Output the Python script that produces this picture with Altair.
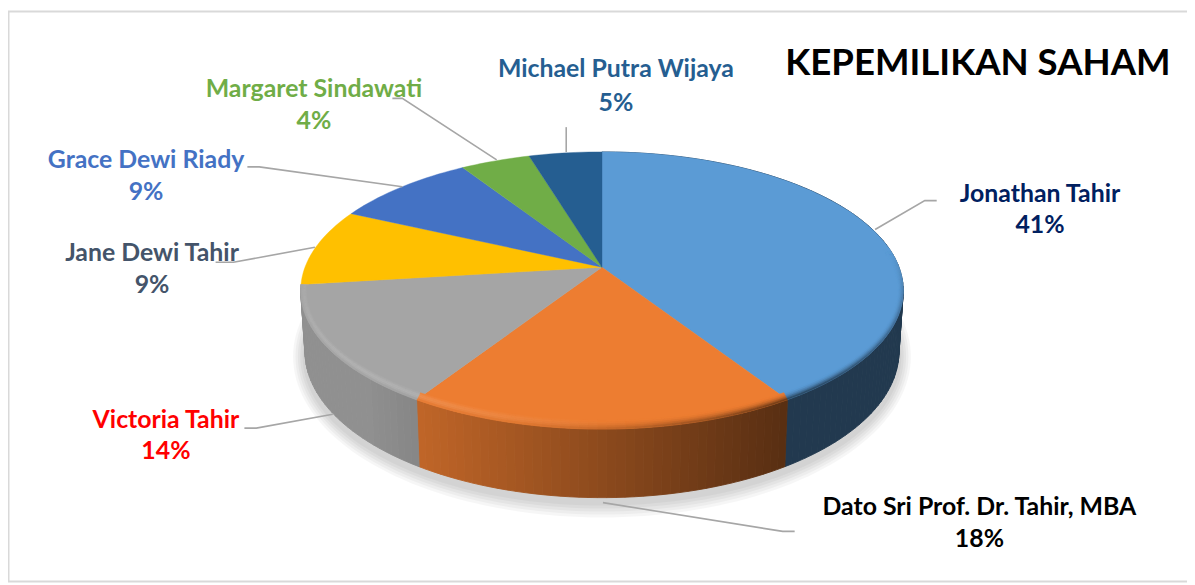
import math
import altair as alt

# ---- data ----
names = ["Jonathan Tahir", "Dato Sri Prof. Dr. Tahir, MBA", "Victoria Tahir", "Jane Dewi Tahir",
         "Grace Dewi Riady", "Margaret Sindawati", "Michael Putra Wijaya"]
shares = [41, 18, 14, 9, 9, 4.4, 4.6]
percent_labels = ["41%", "18%", "14%", "9%", "9%", "4%", "5%"]
slice_colors = ["#5b9bd5", "#ed7d31", "#a5a5a5", "#ffc000", "#4472c4", "#70ad47", "#255e91"]
label_colors = ["#002060", "#000000", "#ff0000", "#44546a", "#4472c4", "#70ad47", "#255e91"]
title_text = "KEPEMILIKAN SAHAM"

# ---- layout (page pixels) ----
W, H = 1187, 577
M = 8
APEX = (606.0, 267.0)
R, A, K = 299.0, 135.6, 0.168      # perspective of the disc
CY_TOP = APEX[1] + 23.5
RX_TOP, RY_TOP = 303.3, 139.5
CY_BOT, RX_BOT, RY_BOT = 352.0, 299.0, 147.0
label_xy = [(1047, 193, 225), (986, 508, 541), (167, 421, 452), (153, 253, 285),
            (147, 159, 191), (316, 88, 120), (620, 68, 102)]
leaders = [[(881, 229), (931, 200), (943, 200)],
           [(607, 504), (788, 533), (800, 533)],
           [(246, 429), (258, 429), (335, 415)],
           [(217, 262), (235, 262), (317, 247)],
           [(249, 166), (261, 166), (405, 186)],
           [(395, 97), (405, 97), (500, 159)],
           [(570, 126), (570, 151)]]


def rim(theta):
    u, v = math.sin(theta), -math.cos(theta)
    w = 1 - K * v
    return APEX[0] + R * u / w, APEX[1] + A * v / w


def bottom(p):
    phi = math.atan2((p[1] - CY_TOP) / RY_TOP, (p[0] - APEX[0]) / RX_TOP)
    return APEX[0] + RX_BOT * math.cos(phi), CY_BOT + RY_BOT * math.sin(phi)


def rgb(c):
    return [int(c[i:i + 2], 16) for i in (1, 3, 5)]


def mix(c, d, t):
    t = max(0.0, min(1.0, t))
    a, b = rgb(c), rgb(d)
    return "#%02x%02x%02x" % tuple(round(x + (y - x) * t) for x, y in zip(a, b))


def clamp(x):
    return max(0.0, min(1.0, x))


def side_shade(x):
    t = (x - 303) / 607
    return max(0.37, min(0.87, 0.95 - 0.72 * t))


def poly(points, color):
    ring = [[(x - APEX[0]) / R, (y - APEX[1]) / R] for x, y in points]
    ring.append(ring[0])
    return {"type": "Feature", "geometry": {"type": "Polygon", "coordinates": [ring]},
            "properties": {"c": color}}


def line(points):
    coords = [[(x - APEX[0]) / R, (y - APEX[1]) / R] for x, y in points]
    return {"type": "Feature", "geometry": {"type": "LineString", "coordinates": coords},
            "properties": {"c": "#a6a6a6"}}


def inset(p, f):
    dx = (p[0] - APEX[0]) / RX_TOP * 6 * (1 - f)
    dy = (p[1] - CY_TOP) / RY_TOP * 9 * (1 - f)
    return p[0] - dx, p[1] - dy


# slice angles from the shares
total = sum(shares)
edges = [0.0]
for s in shares:
    edges.append(edges[-1] + s / total * 2 * math.pi)

shadow, side, top, bevel = [], [], [], []

# soft shadow beneath the disc
for e in [15, 12, 9, 6, 3]:
    pts = [(APEX[0] + (RX_BOT + 0.8 * e) * math.cos(i * math.pi / 90),
            CY_BOT + 5 + (RY_BOT + e) * math.sin(i * math.pi / 90)) for i in range(180)]
    shadow.append(poly(pts, "#000000"))

STEP = math.radians(1.5)
for i, col in enumerate(slice_colors):
    a0, a1 = edges[i], edges[i + 1]
    n = max(2, int((a1 - a0) / STEP))
    thetas = [a0 + (a1 - a0) * j / n for j in range(n + 1)]
    top.append(poly([APEX] + [rim(t) for t in thetas], col))
    for t0, t1 in zip(thetas, thetas[1:]):
        p0, p1 = rim(t0), rim(t1)
        b0, b1 = bottom(p0), bottom(p1)
        xm = (p0[0] + p1[0]) / 2
        ym = (p0[1] + p1[1]) / 2
        side_col = mix("#000000", col, side_shade(xm))
        if i < 3:
            side.append(poly([p0, p1, b1, b0], side_col))
        front = clamp((ym - CY_TOP) / RY_TOP + 0.3)
        if front <= 0 or i >= 3:
            continue
        t = (xm - 303) / 607
        light = clamp(1 - t / 0.55) * front
        dark = (0.2 + 0.8 * clamp((t - 0.35) / 0.45)) * front
        bands = [0.0, 0.2, 0.4, 0.6, 0.8, 1.0]
        for f0, f1 in zip(bands, bands[1:]):
            fm = (f0 + f1) / 2
            c = mix(col, "#ffffff", 0.22 * light * math.sin(math.pi * fm))
            c = mix(c, side_col, dark * fm * fm)
            bevel.append(poly([inset(p0, f0), inset(p1, f0), inset(p1, f1), inset(p0, f1)], c))

proj = alt.Projection(type="identity", scale=R, translate=[APEX[0] - M, APEX[1] - M])


def geo(features, **mark):
    return alt.Chart(alt.Data(values=features)).mark_geoshape(**mark).project(**proj.to_dict())


fill = alt.Fill("properties.c:N", scale=None, legend=None)
stroke = alt.Stroke("properties.c:N", scale=None, legend=None)

shadow_layer = geo(shadow, opacity=0.035, strokeWidth=0).encode(fill=fill)
side_layer = geo(side, strokeWidth=0.9).encode(fill=fill, stroke=stroke)
top_layer = geo(top, strokeWidth=0.4).encode(fill=fill, stroke=stroke)
bevel_layer = geo(bevel, strokeWidth=0.5).encode(fill=fill, stroke=stroke)
leader_layer = geo([line(p) for p in leaders], filled=False, strokeWidth=1.6, stroke="#a6a6a6")

# chart frame
frame = [
    alt.Chart(alt.Data(values=[{"a": 0}])).mark_rule(color="#d9d9d9", strokeWidth=2).encode(
        x=alt.value(a), x2=alt.value(b), y=alt.value(c), y2=alt.value(d))
    for a, b, c, d in [(0, W, 1.5, 1.5), (0.5, 0.5, 1, 576), (0, W, 575.5, 575.5)]
]

rows = []
for n, p, c, (x, y1, y2) in zip(names, percent_labels, label_colors, label_xy):
    rows.append({"t": n, "c": c, "x": x - M, "y": y1 - M})
    rows.append({"t": p, "c": c, "x": x - M, "y": y2 - M})

labels = alt.Chart(alt.Data(values=rows)).mark_text(
    font="Lato", fontWeight="bold", fontSize=25, align="center", baseline="middle"
).encode(
    x=alt.X("x:Q", scale=None, axis=None),
    y=alt.Y("y:Q", scale=None, axis=None),
    text="t:N",
    color=alt.Color("c:N", scale=None, legend=None),
)

title = alt.Chart(alt.Data(values=[{"t": title_text}])).mark_text(
    font="Lato", fontWeight="bold", fontSize=36.8, align="center", baseline="middle", color="#000000"
).encode(x=alt.value(984.5 - M), y=alt.value(63 - M), text="t:N")

chart = alt.layer(
    *frame, shadow_layer, side_layer, top_layer, bevel_layer, leader_layer, labels, title
).properties(width=W, height=H, padding=0, autosize="none", background="#ffffff"
).configure_view(stroke=None)

chart.save("out.html", embed_options={"renderer": "svg", "actions": False})
